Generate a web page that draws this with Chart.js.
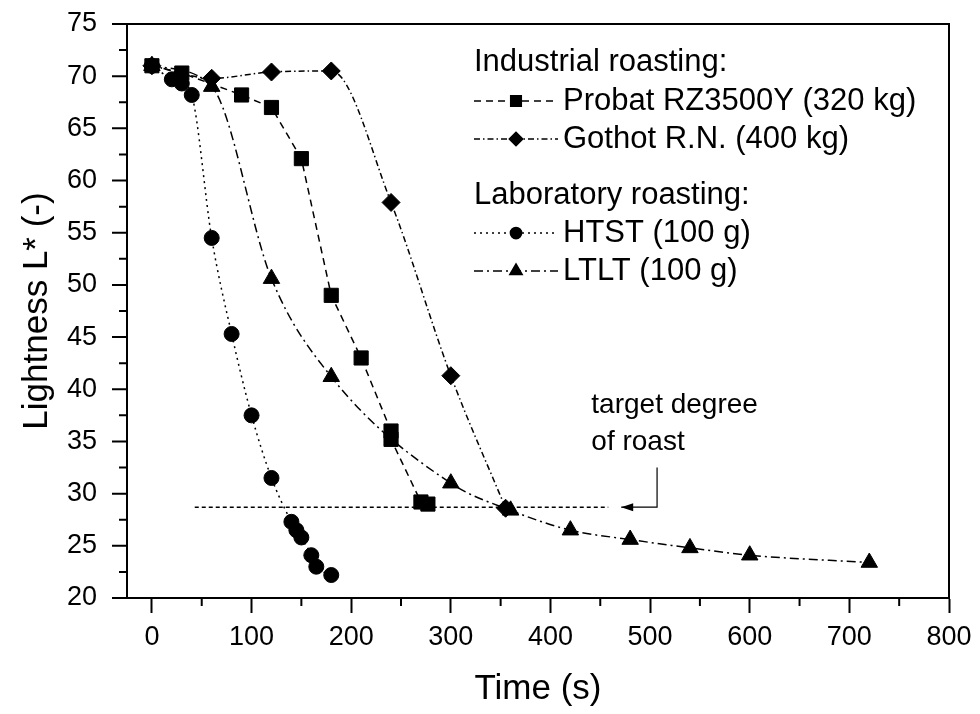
<!DOCTYPE html>
<html>
<head>
<meta charset="utf-8">
<script src="https://cdn.jsdelivr.net/npm/chart.js@4.4.0/dist/chart.umd.min.js"></script>
<style>
html, body { margin: 0; padding: 0; background: #fff; }
</style>
</head>
<body>
<canvas id="chart" width="980" height="714"></canvas>
<script>
// data
const probatTime = [0, 30, 90, 120, 150, 180, 210, 240, 240, 270, 277];
const probatL = [71.0, 70.3, 68.2, 67.0, 62.1, 49.0, 43.0, 36.0, 35.2, 29.2, 29.0];

const gothotTime = [0, 60, 120, 180, 240, 300, 355];
const gothotL = [71.0, 69.8, 70.4, 70.5, 57.9, 41.3, 28.6];

const htstTime = [0, 20, 30, 40, 60, 80, 100, 120, 140, 145, 150, 160, 165, 180];
const htstL = [71.0, 69.7, 69.3, 68.2, 54.5, 45.3, 37.5, 31.5, 27.3, 26.5, 25.8, 24.1, 23.0, 22.2];

const ltltTime = [0, 60, 120, 180, 300, 360, 420, 480, 540, 600, 720];
const ltltL = [71.0, 69.0, 50.6, 41.2, 31.0, 28.4, 26.5, 25.6, 24.8, 24.1, 23.4];

const targetTime = [43, 458];
const targetL = [28.7, 28.7];
const arrowTime = [507, 507, 471];
const arrowL = [32.5, 28.7, 28.7];

const xTicks = [0, 100, 200, 300, 400, 500, 600, 700, 800];
const yTicks = [20, 25, 30, 35, 40, 45, 50, 55, 60, 65, 70, 75];
const xMinor = [50, 150, 250, 350, 450, 550, 650, 750];
const yMinor = [22.5, 27.5, 32.5, 37.5, 42.5, 47.5, 52.5, 57.5, 62.5, 67.5, 72.5];

const FONT = '"Liberation Sans", Arial, Helvetica, sans-serif';
const toPts = (xs, ys) => xs.map((x, i) => ({ x: x, y: ys[i] }));

const styles = {
  probat: { dash: [7, 5], point: 'rect', radius: 10 },
  gothot: { dash: [6, 3, 1.5, 3], point: 'rectRot', radius: 9 },
  htst: { dash: [2, 4], point: 'circle', radius: 7.5 },
  ltlt: { dash: [9, 4, 2, 4], point: 'triangle', radius: 9.5 }
};

function series(name, xs, ys, tension) {
  const s = styles[name];
  return {
    data: toPts(xs, ys),
    showLine: true,
    borderColor: '#000',
    backgroundColor: '#000',
    borderWidth: 1.5,
    borderDash: s.dash,
    pointStyle: s.point,
    pointRadius: s.radius,
    pointBorderWidth: 1,
    pointBorderColor: '#000',
    pointBackgroundColor: '#000',
    tension: tension,
    cubicInterpolationMode: tension ? 'monotone' : 'default'
  };
}

// frame, y ticks, minor ticks, legend and the annotation
const extras = {
  id: 'extras',
  afterDraw(chart) {
    const c = chart.ctx;
    const a = chart.chartArea;
    const xs = chart.scales.x, ys = chart.scales.y;
    c.save();
    c.strokeStyle = '#000';
    c.fillStyle = '#000';
    c.lineWidth = 2;
    c.setLineDash([]);
    c.strokeRect(a.left, a.top, a.right - a.left, a.bottom - a.top);

    c.beginPath();
    xMinor.forEach(v => {
      const px = xs.getPixelForValue(v);
      c.moveTo(px, a.bottom); c.lineTo(px, a.bottom + 8);
    });
    yMinor.forEach(v => {
      const py = ys.getPixelForValue(v);
      c.moveTo(a.left, py); c.lineTo(a.left - 8, py);
    });
    yTicks.forEach(v => {
      const py = ys.getPixelForValue(v);
      c.moveTo(a.left, py); c.lineTo(a.left - 15, py);
    });
    c.stroke();

    // arrow to the target line
    c.lineWidth = 1.2;
    c.beginPath();
    arrowTime.forEach((t, i) => {
      const px = xs.getPixelForValue(t), py = ys.getPixelForValue(arrowL[i]);
      if (i === 0) c.moveTo(px, py); else c.lineTo(px, py);
    });
    c.stroke();
    const tipX = xs.getPixelForValue(arrowTime[2]);
    const tipY = ys.getPixelForValue(arrowL[2]);
    c.beginPath();
    c.moveTo(tipX, tipY);
    c.lineTo(tipX + 12, tipY - 4);
    c.lineTo(tipX + 12, tipY + 4);
    c.closePath();
    c.fill();

    c.font = '28px ' + FONT;
    c.textBaseline = 'middle';
    c.textAlign = 'left';
    c.fillText('target degree', xs.getPixelForValue(441), ys.getPixelForValue(38.5));
    c.fillText('of roast', xs.getPixelForValue(441), ys.getPixelForValue(34.9));

    // legend
    const lx = 474;
    c.font = '31px ' + FONT;
    c.fillText('Industrial roasting:', lx, 62);
    c.fillText('Laboratory roasting:', lx, 195);
    const rows = [
      ['probat', 'Probat RZ3500Y (320 kg)', 101],
      ['gothot', 'Gothot R.N. (400 kg)', 139],
      ['htst', 'HTST (100 g)', 233],
      ['ltlt', 'LTLT (100 g)', 271]
    ];
    rows.forEach(r => {
      const s = styles[r[0]];
      c.lineWidth = 1.5;
      c.setLineDash(s.dash);
      c.beginPath();
      c.moveTo(lx, r[2]); c.lineTo(lx + 84, r[2]);
      c.stroke();
      c.setLineDash([]);
      Chart.helpers.drawPoint(c, { pointStyle: s.point, radius: s.radius * 0.75, rotation: 0, borderWidth: 1 }, lx + 42, r[2]);
      c.fill();
      c.fillText(r[1], lx + 89, r[2]);
    });
    c.restore();
  }
};

const ctx = document.getElementById('chart').getContext('2d');
new Chart(ctx, {
  type: 'scatter',
  data: {
    datasets: [
      {
        data: toPts(targetTime, targetL),
        showLine: true,
        borderColor: '#000',
        borderWidth: 1.5,
        borderDash: [4, 3],
        pointRadius: 0
      },
      series('probat', probatTime, probatL, 0),
      series('gothot', gothotTime, gothotL, 0.4),
      series('htst', htstTime, htstL, 0.4),
      series('ltlt', ltltTime, ltltL, 0.4)
    ]
  },
  options: {
    responsive: false,
    animation: false,
    layout: { padding: { top: 24, right: 31, left: 0, bottom: 0 } },
    plugins: { legend: { display: false }, tooltip: { enabled: false } },
    scales: {
      x: {
        type: 'linear',
        min: -25,
        max: 800,
        afterBuildTicks: s => { s.ticks = xTicks.map(v => ({ value: v })); },
        afterFit: s => { s.height = 116; },
        grid: { drawOnChartArea: false, tickLength: 15, tickWidth: 2, tickColor: '#000' },
        border: { color: '#000', width: 2 },
        ticks: { color: '#000', font: { family: FONT, size: 27 }, padding: 8, maxRotation: 0 },
        title: { display: true, text: 'Time (s)', color: '#000', font: { family: FONT, size: 35 }, padding: { top: 0, bottom: 4 } }
      },
      y: {
        type: 'linear',
        min: 20,
        max: 75,
        afterBuildTicks: s => { s.ticks = yTicks.map(v => ({ value: v })); },
        afterFit: s => { s.width = 127; },
        grid: { drawOnChartArea: false, tickLength: 23, tickWidth: 0, tickColor: 'rgba(0,0,0,0)' },
        border: { color: '#000', width: 2 },
        ticks: { color: '#000', font: { family: FONT, size: 27 }, padding: 7 },
        title: { display: true, text: 'Lightness L* (-)', color: '#000', font: { family: FONT, size: 35 }, padding: { top: 16, bottom: 0 } }
      }
    }
  },
  plugins: [extras]
});
</script>
</body>
</html>
